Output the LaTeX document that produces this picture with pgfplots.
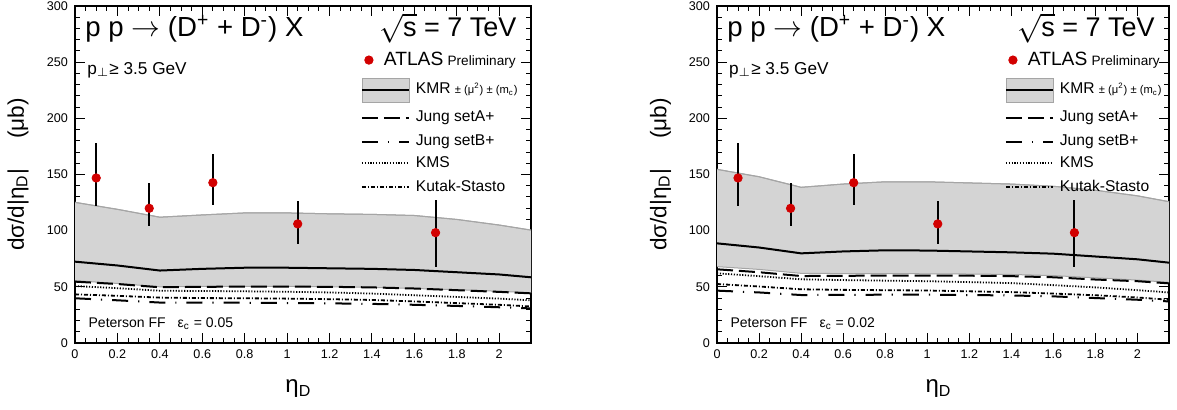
\documentclass[border=0pt]{standalone}
\usepackage{fontspec}
\setmainfont{Liberation Sans}
\usepackage{pgfplots}
\usepackage{pgfplotstable}
\pgfplotsset{compat=1.18}
\usepgfplotslibrary{fillbetween}

\definecolor{atlasred}{RGB}{210,0,0}
\definecolor{bandfill}{RGB}{212,212,212}
\definecolor{bandedge}{RGB}{165,165,165}

% ATLAS points (same in both panels)
\pgfplotstableread{
x    y     ep   em
0.10 146.9 30.9 24.9
0.35 119.9 22.8 15.9
0.65 142.7 25.3 19.9
1.05 106.0 20.4 18.1
1.70  98.2 29.1 30.3
}\atlas

% Peterson eps_c = 0.05
\pgfplotstableread{
x    up    lo   kmr  seta kms  kutak setb
0.0  125.2 55.5 72.4 54.6 50.7 43.3 39.8
0.2  119.0 53.0 69.0 52.5 48.8 42.0 38.0
0.4  112.0 50.0 64.5 49.6 46.5 40.4 36.0
0.6  114.0 50.3 66.0 50.0 46.3 40.0 36.0
0.8  115.8 50.5 67.0 50.2 46.0 39.8 35.8
1.0  115.8 50.5 67.0 50.2 45.6 39.5 35.6
1.2  115.0 50.0 66.5 50.0 45.0 39.0 35.3
1.4  114.5 49.5 66.0 49.5 44.0 38.3 34.8
1.6  113.5 48.5 65.0 48.5 42.5 37.0 34.0
1.8  110.0 47.5 63.0 47.0 41.0 35.5 33.0
2.0  105.0 46.0 61.0 45.5 39.5 34.0 31.8
2.15 100.5 44.8 58.5 44.2 38.0 32.5 30.8
}\epsA

% Peterson eps_c = 0.02
\pgfplotstableread{
x    up    lo   kmr  seta kms  kutak setb
0.0  154.6 68.0 88.7 65.6 62.0 52.5 46.6
0.2  148.0 65.5 85.0 63.0 59.5 50.3 45.0
0.4  138.6 62.0 79.8 59.6 56.7 47.8 42.7
0.6  141.5 61.8 81.5 59.8 56.0 47.3 42.8
0.8  143.5 61.8 82.5 60.0 55.5 47.0 43.0
1.0  143.5 61.6 82.3 60.0 55.0 46.7 43.0
1.2  142.5 61.4 81.5 59.9 54.2 46.0 42.7
1.4  141.5 61.0 80.7 59.5 53.3 45.3 42.3
1.6  139.5 60.0 79.5 58.5 51.5 44.0 41.5
1.8  136.0 58.0 77.0 56.5 49.5 42.5 40.0
2.0  131.0 56.0 74.5 55.0 47.0 40.5 38.5
2.15 125.8 54.0 71.5 53.1 45.0 38.5 37.0
}\epsB

\tikzset{
  kmrline/.style={black, line width=1pt},
  setaline/.style={black, line width=1pt, dash pattern=on 8pt off 3pt},
  setbline/.style={black, line width=1pt, dash pattern=on 8pt off 5pt on 0.6pt off 5pt},
  kmsline/.style={black, line width=0.9pt, dash pattern=on 0.6pt off 0.8pt},
  kutakline/.style={black, line width=0.9pt, dash pattern=on 2pt off 1pt on 0.5pt off 1pt},
}

\newcommand{\fs}[1]{\fontsize{#1}{#1}\selectfont}

\pgfplotsset{
  panel/.style={
    scale only axis, height=168.5pt,
    xmin=0, xmax=2.15, ymin=0, ymax=300,
    xtick={0,0.2,...,2.0}, ytick={0,50,...,300},
    minor x tick num=3, minor y tick num=4,
    tick align=inside,
    major tick length=5pt, minor tick length=2.5pt,
    axis line style={line width=1pt},
    every tick/.style={black, line width=0.5pt},
    tick label style={font=\fs{6.3}},
    /pgf/number format/assume math mode=true,
    clip mode=individual,
    legend cell align=left,
    legend style={draw=none, fill=none, inner sep=0pt, outer sep=0pt,
      row sep=0pt, column sep=3pt, font=\fs{7.8},
      nodes={inner sep=0pt}},
  },
}

% legend shared by both panels; the invisible paths fix each row's height
\newcommand{\legendset}{%
  \addlegendimage{legend image code/.code={\path[draw=none] (0,-7.5pt)--(0,7.5pt); \fill[atlasred] (3.5pt,0) circle (2.1pt);}}
  \addlegendentry{\hspace*{-16pt}{\fs{9.6}ATLAS} {\fs{6.8}Preliminary}}
  \addlegendimage{legend image code/.code={\path[draw=none] (0,-7.5pt)--(0,7.5pt); \fill[bandfill,draw=bandedge] (0,-6pt) rectangle (23.5pt,6pt); \draw[kmrline] (0,0)--(23.5pt,0);}}
  \addlegendentry{KMR {\fs{5.6}± (μ\textsuperscript{2}) ± (m\textsubscript{c})}}
  \addlegendimage{legend image code/.code={\path[draw=none] (0,-6.5pt)--(0,6.5pt); \draw[setaline] (0,0)--(23.5pt,0);}}
  \addlegendentry{Jung setA+}
  \addlegendimage{legend image code/.code={\path[draw=none] (0,-5.5pt)--(0,5.5pt); \draw[setbline] (0,0)--(23.5pt,0);}}
  \addlegendentry{Jung setB+}
  \addlegendimage{legend image code/.code={\path[draw=none] (0,-5pt)--(0,5pt); \draw[kmsline] (0,0)--(23.5pt,0);}}
  \addlegendentry{KMS}
  \addlegendimage{legend image code/.code={\path[draw=none] (0,-7pt)--(0,7pt); \draw[kutakline] (0,0)--(23.5pt,0);}}
  \addlegendentry{Kutak-Stasto}
}

\newcommand{\curves}[1]{%
  \addplot[draw=bandedge, line width=0.5pt, name path=up, forget plot] table[x=x,y=up] {#1};
  \addplot[draw=bandedge, line width=0.5pt, name path=lo, forget plot] table[x=x,y=lo] {#1};
  \addplot[bandfill, forget plot] fill between[of=up and lo];
  \addplot[draw=bandedge, line width=0.5pt, forget plot] table[x=x,y=up] {#1};
  \addplot[kmrline, forget plot] table[x=x,y=kmr] {#1};
  \addplot[setaline, forget plot] table[x=x,y=seta] {#1};
  \addplot[setbline, forget plot] table[x=x,y=setb] {#1};
  \addplot[kmsline, forget plot] table[x=x,y=kms] {#1};
  \addplot[kutakline, forget plot] table[x=x,y=kutak] {#1};
  \addplot[only marks, mark=*, mark size=2.1pt, atlasred, forget plot,
    error bars/.cd, y dir=both, y explicit, error mark=none,
    error bar style={black, line width=1pt}]
    table[x=x, y=y, y error plus=ep, y error minus=em] {\atlas};
}

\newcommand{\labels}[1]{%
  \node[inner sep=0pt, anchor=base west, font=\fs{13.8}] at (rel axis cs:0.022,0.908)
    {p p $\rightarrow$ (D\textsuperscript{+} + D\textsuperscript{-}) X};
  \node[inner sep=0pt, anchor=base east, font=\fs{13.5}] at (rel axis cs:0.969,0.908)
    {\smash{$\sqrt{\mbox{s}}$} = 7 TeV};
  \node[inner sep=0pt, anchor=base west, font=\fs{8.6}] at (rel axis cs:0.026,0.798)
    {p$_\perp$≥ 3.5 GeV};
  \node[inner sep=0pt, anchor=base west, font=\fs{7}] at (rel axis cs:0.029,0.047)
    {Peterson FF\hspace{6pt}ε\textsubscript{c} = #1};
  \node[inner sep=0pt, rotate=90, anchor=base, font=\fs{11.3}] at (rel axis cs:-0.112,0.5)
    {dσ/d|η\textsubscript{D}|\hspace{15pt}(μb)};
  \node[inner sep=0pt, anchor=base, font=\fs{12}] at (rel axis cs:0.49,-0.148)
    {η\textsubscript{D}};
}

\begin{document}
\begin{tikzpicture}
\begin{axis}[panel, width=228pt, at={(37.5pt,33.5pt)}, anchor=south west,
  legend style={at={(0.627,0.884)}, anchor=north west}]
\legendset
\curves{\epsA}
\labels{0.05}
\end{axis}

\begin{axis}[panel, width=226pt, at={(358.5pt,33.5pt)}, anchor=south west,
  legend style={at={(0.637,0.884)}, anchor=north west}]
\legendset
\curves{\epsB}
\labels{0.02}
\end{axis}
\pgfresetboundingbox
\path[use as bounding box] (0,0) rectangle (588.5pt,205pt);
\end{tikzpicture}
\end{document}
